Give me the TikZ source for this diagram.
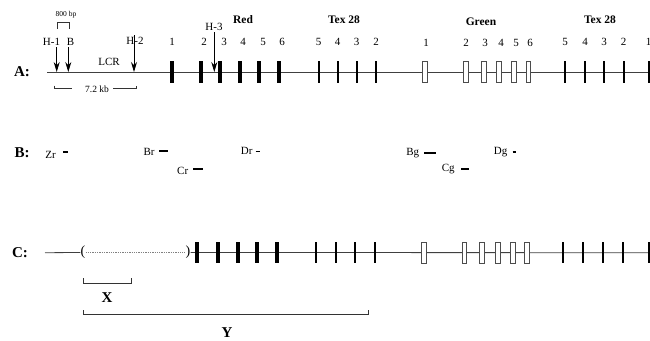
\documentclass[tikz,border=0pt]{standalone}
\usepackage{fontspec}
\setmainfont{Liberation Serif}
\usetikzlibrary{arrows.meta}

\begin{document}
\begin{tikzpicture}[x=1pt,y=-1pt,
        lbl/.style={font=\fontsize{11}{12}\selectfont,inner sep=0pt},
        tiny/.style={font=\fontsize{7.5}{8}\selectfont,inner sep=0pt},
        mid/.style={font=\fontsize{9.5}{10}\selectfont,inner sep=0pt},
        head/.style={font=\fontsize{11.5}{12}\selectfont\bfseries,inner sep=0pt},
        row/.style={font=\fontsize{15}{16}\selectfont\bfseries,inner sep=0pt},
        dna/.style={black!75,line width=0.8pt},
        redex/.style={fill=black,inner sep=0pt,minimum width=4pt,minimum height=22pt},
        texex/.style={fill=black,inner sep=0pt,minimum width=2pt,minimum height=22pt},
        greenex/.style={draw=black!70,fill=white,line width=0.6pt,inner sep=0pt,minimum width=4.5pt,minimum height=21pt},
        site/.style={-{Stealth[length=10pt,width=6pt]},line width=0.9pt},
        probe/.style={line width=1.8pt},
        span/.style={line width=0.7pt,black!80}]
        \useasboundingbox (0,0) rectangle (650,340);

        % row A
        \node[row] (rowa) at (22,72) {A:};
        \coordinate (astart) at (47,72);
        \coordinate (aend) at (650,72);
        \draw[dna] (astart) -- (aend);
        \node[head] (red) at (243,20) {Red};
        \node[head] (texa) at (344,20) {Tex 28};
        \node[head] (green) at (481,22) {Green};
        \node[head] (texb) at (600,20) {Tex 28};
        \foreach \x [count=\i] in {172,200.5,219.5,239.5,259,278.5}
            \node[redex] (ar\i) at (\x,72) {};
        \foreach \x/\n in {172/1,204/2,224/3,243/4,263/5,282/6}
            \node[lbl] at (\x,42) {\n};
        \foreach \x/\n in {318.5/5,337.5/4,356.5/3,376/2}
        {
            \node[texex] (at\n) at (\x,72) {};
            \node[lbl] at (\x,42) {\n};
        }
        \foreach \x/\n in {425/1,466/2,484/3,499/4,514/5,528.5/6}
            \node[greenex] (ag\n) at (\x,72) {};
        \foreach \x/\n in {426/1,466/2,485/3,501/4,516/5,530/6}
            \node[lbl] at (\x,43) {\n};
        \foreach \x/\n in {565/5,585/4,604/3,623.5/2,648.5/1}
        {
            \node[texex] (bt\n) at (\x,72) {};
            \node[lbl] at (\x,42) {\n};
        }

        % sites
        \node[lbl] (h1) at (51.5,42) {H-1};
        \node[lbl] (hb) at (70.5,42) {B};
        \node[lbl] (h2) at (135,41) {H-2};
        \node[lbl] (h3) at (214,27) {H-3};
        \node[lbl] (lcr) at (109,62) {LCR};
        \coordinate (h1top) at (56.7,47);
        \coordinate (h1tip) at (56.7,72);
        \coordinate (hbtop) at (68.3,47);
        \coordinate (hbtip) at (68.3,72);
        \coordinate (h2top) at (134,35);
        \coordinate (h2tip) at (134,72);
        \coordinate (h3top) at (214.3,32);
        \coordinate (h3tip) at (214.3,72);
        \draw[site] (h1top) -- (h1tip);
        \draw[site] (hbtop) -- (hbtip);
        \draw[site] (h2top) -- (h2tip);
        \draw[site] (h3top) -- (h3tip);
        \node[tiny] (bp) at (66,15) {800 bp};
        \draw[span] (57.3,29) |- (69.3,22.5) -- (69.3,29);
        \node[mid] (kb) at (97,89) {7.2 kb};
        \draw[span] (54.5,85.5) |- (72,88.5);
        \draw[span] (113,88.5) -| (136.7,85.5);

        % row B
        \node[row] (rowb) at (22,153) {B:};
        \node[lbl] (zr) at (50.5,155) {Zr};
        \draw[probe] (63.3,152) -- (68.3,152);
        \node[lbl] (br) at (149,151.5) {Br};
        \draw[probe] (159.3,150.7) -- (168.3,150.7);
        \node[lbl] (cr) at (182.7,171) {Cr};
        \draw[probe] (193.3,169) -- (203.3,169);
        \node[lbl] (dr) at (246.7,151) {Dr};
        \draw[probe] (255.5,151.5) -- (260,151.5);
        \node[lbl] (bg) at (412.7,153) {Bg};
        \draw[probe] (424.3,153.3) -- (436,153.3);
        \node[lbl] (cg) at (448.3,169.5) {Cg};
        \draw[probe] (461,169) -- (469.3,169);
        \node[lbl] (dg) at (500.7,152.5) {Dg};
        \draw[probe] (512.7,152) -- (515.5,152);

        % row C
        \node[row] (rowc) at (20,252.5) {C:};
        \coordinate (cstart) at (45,252.7);
        \coordinate (cend) at (650,252.7);
        \node[font=\fontsize{14}{15}\selectfont,inner sep=0pt] (lp) at (83,252.5) {(};
        \node[font=\fontsize{14}{15}\selectfont,inner sep=0pt] (rp) at (188,252.5) {)};
        \draw[dna] (cstart) -- (lp.west);
        \draw[gray,densely dotted,line width=1.3pt] (lp.east) -- (rp.west);
        \draw[dna] (rp.east) -- (cend);
        \foreach \x [count=\i] in {197,218,238,257,277}
            \node[redex,minimum height=21pt] (cr\i) at (\x,252.7) {};
        \foreach \x [count=\i] in {316,336,355,375}
            \node[texex,minimum height=21pt] (ct\i) at (\x,252.7) {};
        \foreach \x [count=\i] in {424,464.5,482,498,513,527}
            \node[greenex] (cg\i) at (\x,252.7) {};
        \foreach \x [count=\i] in {563,583,603,622.5,648.5}
            \node[texex,minimum height=21pt] (cu\i) at (\x,252.7) {};

        % spans
        \draw[span] (83,278) |- (131,283) -- (131,278);
        \node[row] (x) at (107,298) {X};
        \draw[span] (83,310) |- (368,314) -- (368,310);
        \node[row] (y) at (227,333) {Y};
\end{tikzpicture}
\end{document}
